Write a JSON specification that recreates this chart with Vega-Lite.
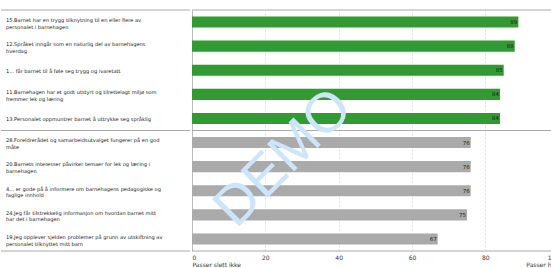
{
  "$schema": "https://vega.github.io/schema/vega-lite/v6.json",
  "padding": {"top": 9, "left": 0, "right": 0, "bottom": 0},
  "config": {"view": {"stroke": null}, "concat": {"spacing": 0}, "font": "DejaVu Sans"},
  "datasets": {
    "rows": [
      {"q": "15.Barnet har en trygg tilknytning til en eller flere av\npersonalet i barnehagen", "v": 89, "grp": "Topp 5"},
      {"q": "12.Språket inngår som en naturlig del av barnehagens\nhverdag", "v": 88, "grp": "Topp 5"},
      {"q": "1... får barnet til å føle seg trygg og ivaretatt", "v": 85, "grp": "Topp 5"},
      {"q": "11.Barnehagen har et godt utstyrt og tilrettelagt miljø som\nfremmer lek og læring", "v": 84, "grp": "Topp 5"},
      {"q": "13.Personalet oppmuntrer barnet å uttrykke seg språklig", "v": 84, "grp": "Topp 5"},
      {"q": "28.Foreldrerådet og samarbeidsutvalget fungerer på en god\nmåte", "v": 76, "grp": "Bunn 5"},
      {"q": "20.Barnets interesser påvirker temaer for lek og læring i\nbarnehagen", "v": 76, "grp": "Bunn 5"},
      {"q": "4... er gode på å informere om barnehagens pedagogiske og\nfaglige innhold", "v": 76, "grp": "Bunn 5"},
      {"q": "24.Jeg får tilstrekkelig informasjon om hvordan barnet mitt\nhar det i barnehagen", "v": 75, "grp": "Bunn 5"},
      {"q": "19.Jeg opplever sjelden problemer på grunn av utskiftning av\npersonalet tilknyttet mitt barn", "v": 67, "grp": "Bunn 5"}
    ],
    "mark": [{"w": "DEMO"}]
  },
  "resolve": {"scale": {"x": "independent", "y": "independent"}},
  "hconcat": [
    {
      "width": 189,
      "height": 241,
      "data": {"name": "rows"},
      "encoding": {
        "y": {"field": "q", "type": "nominal", "sort": null, "axis": null, "scale": {"type": "band", "padding": 0}}
      },
      "layer": [
        {
          "mark": {"type": "text", "align": "left", "baseline": "middle", "lineBreak": "\n", "lineHeight": 6.8, "fontSize": 5.1, "dx": 5, "dy": -2.2, "color": "#222"},
          "encoding": {
            "x": {"datum": 0, "type": "quantitative", "scale": {"domain": [0, 1]}, "axis": null},
            "text": {"condition": {"test": "indexof(datum.q, '\\n') < 0", "value": ""}, "field": "q"}
          }
        },
        {
          "transform": [{"filter": "indexof(datum.q, '\\n') < 0"}],
          "mark": {"type": "text", "align": "left", "baseline": "middle", "fontSize": 5.1, "dx": 5, "dy": 1, "color": "#222"},
          "encoding": {
            "x": {"datum": 0, "type": "quantitative", "scale": {"domain": [0, 1]}, "axis": null},
            "text": {"field": "q"}
          }
        },
        {
          "transform": [{"filter": {"field": "v", "oneOf": [89, 76]}}, {"window": [{"op": "row_number", "as": "k"}], "groupby": ["v"]}, {"filter": "datum.k == 1"}],
          "mark": {"type": "rule", "color": "#aaaaaa", "strokeWidth": 1},
          "encoding": {
            "y": {"field": "q", "type": "nominal", "sort": null, "bandPosition": 0}
          }
        },
        {
          "transform": [{"filter": {"field": "v", "equal": 67}}],
          "mark": {"type": "rule", "color": "#aaaaaa", "strokeWidth": 1},
          "encoding": {
            "y": {"field": "q", "type": "nominal", "sort": null, "bandPosition": 1}
          }
        }
      ]
    },
    {
      "width": 366.7,
      "height": 241,
      "layer": [
        {
          "data": {"name": "rows"},
          "mark": {"type": "bar", "height": {"band": 0.46}},
          "encoding": {
            "y": {"field": "q", "type": "nominal", "sort": null, "scale": {"type": "band", "padding": 0},
                  "axis": {"title": null, "labels": false, "ticks": false, "grid": false, "domain": true, "domainColor": "#bbbbbb", "minExtent": 0, "maxExtent": 0, "offset": 0}},
            "x": {"field": "v", "type": "quantitative", "scale": {"domain": [0, 100], "nice": false},
                  "axis": {"title": null, "values": [0, 20, 40, 60, 80, 100], "labelFlush": true, "grid": true, "gridDash": [2, 2], "gridColor": "#dddddd",
                           "ticks": false, "domain": false, "labelFontSize": 6, "labelColor": "#333333", "labelPadding": 3, "labelLineHeight": 7,
                           "labelExpr": "datum.value == 0 ? ['0', 'Passer slett ikke'] : datum.value == 100 ? ['100', 'Passer helt'] : datum.label"}},
            "color": {"field": "grp", "type": "nominal", "scale": {"domain": ["Topp 5", "Bunn 5"], "range": ["#339933", "#aaaaaa"]}, "legend": null}
          }
        },
        {
          "data": {"name": "rows"},
          "mark": {"type": "text", "align": "right", "baseline": "middle", "dx": -1, "fontSize": 5.5, "color": "#222222"},
          "encoding": {
            "y": {"field": "q", "type": "nominal", "sort": null},
            "x": {"field": "v", "type": "quantitative"},
            "text": {"field": "v"}
          }
        },
        {
          "data": {"name": "rows"},
          "transform": [{"filter": {"field": "v", "oneOf": [89, 76]}}, {"window": [{"op": "row_number", "as": "k"}], "groupby": ["v"]}, {"filter": "datum.k == 1"}],
          "mark": {"type": "rule", "color": "#aaaaaa", "strokeWidth": 1},
          "encoding": {
            "y": {"field": "q", "type": "nominal", "sort": null, "bandPosition": 0}
          }
        },
        {
          "data": {"name": "rows"},
          "transform": [{"filter": {"field": "v", "equal": 67}}],
          "mark": {"type": "rule", "color": "#aaaaaa", "strokeWidth": 1},
          "encoding": {
            "y": {"field": "q", "type": "nominal", "sort": null, "bandPosition": 1}
          }
        },
        {
          "data": {"name": "mark"},
          "mark": {"type": "text", "angle": -45, "align": "center", "baseline": "middle", "dx": 12, "fontSize": 56, "font": "Liberation Sans", "color": "#cce5fb"},
          "encoding": {
            "x": {"datum": 22.6, "type": "quantitative"},
            "y": {"datum": "20.Barnets interesser påvirker temaer for lek og læring i\nbarnehagen", "type": "nominal"},
            "text": {"field": "w"}
          }
        }
      ]
    }
  ]
}
